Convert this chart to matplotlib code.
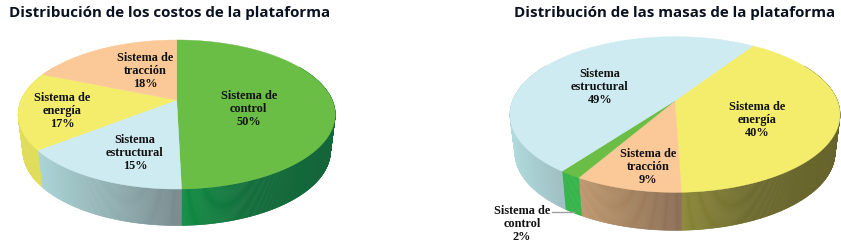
import numpy as np
import matplotlib
matplotlib.use("Agg")
import matplotlib.pyplot as plt
from matplotlib.collections import PolyCollection
from matplotlib.colors import to_rgb

W, H = 841, 247

# ---- data
cost_title = "Distribución de los costos de la plataforma"
cost_labels = ["Sistema de\ncontrol\n50%", "Sistema\nestructural\n15%",
               "Sistema de\nenergía\n17%", "Sistema de\ntracción\n18%"]
cost_values = [49.6, 14.8, 16.8, 18.8]
mass_title = "Distribución de las masas de la plataforma"
mass_labels = ["Sistema de\nenergía\n40%", "Sistema de\ntracción\n9%",
               "Sistema de\ncontrol\n2%", "Sistema\nestructural\n49%"]
mass_values = [40.2, 8.9, 1.8, 49.1]

# ---- styles
GREEN, BLUE, YELLOW, PEACH = "#6ABD45", "#CFEBF2", "#F3ED6B", "#FBC998"
cost_tops = [GREEN, BLUE, YELLOW, PEACH]
mass_tops = [YELLOW, PEACH, GREEN, BLUE]
cost_sides = [["#0F8C42", "#126C3A", "#14653A"],
              ["#ABD4D6", "#94B4B6", "#76888C"],
              ["#E0DC5C", "#E0DC5C", "#E0DC5C"],
              ["#FBC998", "#FBC998", "#FBC998"]]
mass_sides = [["#8A8636", "#6C6A2E", "#66642C"],
              ["#BE9870", "#A6845F", "#8A6C54"],
              ["#35B44A", "#35B44A", "#35B44A"],
              ["#B0DADC", "#A8CDD0", "#9FBFC2"]]
cost_pos = [(248.7, 109), (135, 152.7), (62.3, 111), (145, 70.7)]
mass_pos = [(756.7, 120), (648, 166.7), (522, 224), (600, 86.7)]


def project(theta, g):
    """Clockwise angle from 12 o'clock on a tilted disc -> pixel position."""
    u, v = np.sin(theta), np.cos(theta)
    d = 1 + g["k"] * v
    return g["x"] + g["a"] * u / d, g["y"] - g["b"] * v / d


def draw_pie(ax, values, tops, sides, g):
    edges = np.deg2rad(g["start"] + 3.6 * np.concatenate([[0], np.cumsum(values)]))
    lo, hi = np.deg2rad(60), np.deg2rad(300)
    # side wall
    for i, col in enumerate(sides):
        a0, a1 = edges[i], edges[i + 1]
        segs = []
        for shift in (0, -2 * np.pi, 2 * np.pi):
            s0, s1 = max(a0 + shift, lo), min(a1 + shift, hi)
            if s1 > s0:
                segs.append((s0, s1))
        stops = np.array([to_rgb(c) for c in col])
        for s0, s1 in segs:
            t = np.linspace(s0, s1, max(int((s1 - s0) * 180), 4))
            x, y = project(t, g)
            xb = g["x"] + (x - g["x"]) * g["shrink"]
            yb = y + g["depth"]
            # gradient runs along the visible horizontal span of the slice
            vis = t[(t > np.deg2rad(90))]
            xv = x[t > np.deg2rad(90)] if len(vis) else x
            x0, x1 = xv.min(), xv.max()
            f = np.clip((x - x0) / max(x1 - x0, 1), 0, 1)
            cols = np.column_stack([np.interp(f, [0, .45, 1], stops[:, c]) for c in range(3)])
            polys, pc = [], []
            for j in range(len(t) - 1):
                polys.append([(x[j], y[j]), (x[j + 1], y[j + 1]),
                              (xb[j + 1], yb[j + 1]), (xb[j], yb[j])])
                pc.append((cols[j] + cols[j + 1]) / 2)
            ax.add_collection(PolyCollection(polys, facecolors=pc, edgecolors=pc,
                                             linewidths=0.4, zorder=2))
    # top face
    for i, c in enumerate(tops):
        t = np.linspace(edges[i], edges[i + 1], 160)
        x, y = project(t, g)
        ax.fill(np.r_[g["x"], x], np.r_[g["y"], y], facecolor=c, edgecolor=c,
                linewidth=0.3, zorder=3)


def draw_labels(ax, labels, pos):
    for s, (x, y) in zip(labels, pos):
        ax.text(x, y, s, ha="center", va="center", family="Liberation Serif",
                weight="bold", fontsize=8.8, color="#111111", linespacing=1.1, zorder=5)


fig = plt.figure(figsize=(W / 100, H / 100), dpi=100, facecolor="white")
ax = fig.add_axes([0, 0, 1, 1])
ax.set_xlim(0, W)
ax.set_ylim(H, 0)
ax.axis("off")

g_cost = dict(x=176.7, y=100, a=155.5, b=71.7, k=0.1946, depth=36.5, shrink=0.97, start=0)
g_mass = dict(x=675, y=100.7, a=162.4, b=75.4, k=0.1774, depth=38, shrink=0.97, start=33.4)

draw_pie(ax, cost_values, cost_tops, cost_sides, g_cost)
draw_pie(ax, mass_values, mass_tops, mass_sides, g_mass)
draw_labels(ax, cost_labels, cost_pos)
draw_labels(ax, mass_labels, mass_pos)

ax.plot([552, 574], [211.7, 211.7], color="#A0A0A0", lw=1.0, zorder=4)

title_kw = dict(family="Open Sans", weight="bold", fontsize=10.88, color="#0A1220",
                ha="left", va="center")
ax.text(9, 12.5, cost_title, **title_kw)
ax.text(514, 13.5, mass_title, **title_kw)

fig.savefig("out.png", dpi=100, facecolor="white")
